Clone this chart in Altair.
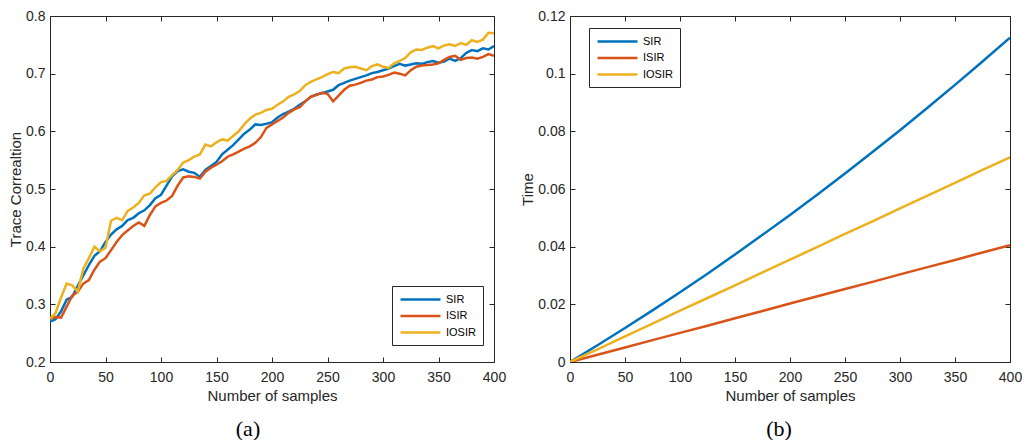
import altair as alt
import pandas as pd

methods = ["SIR", "ISIR", "IOSIR"]
colors = ["#0072BD", "#D95319", "#EDB120"]

# ---- panel (a): trace correlation ----
samples_a = list(range(0, 401, 5))
sir_a = [0.270, 0.274, 0.288, 0.308, 0.313, 0.332, 0.350, 0.368, 0.384, 0.392,
         0.408, 0.421, 0.430, 0.436, 0.446, 0.450, 0.458, 0.463, 0.472, 0.484,
         0.490, 0.506, 0.522, 0.531, 0.534, 0.530, 0.528, 0.521, 0.533, 0.540,
         0.547, 0.560, 0.568, 0.576, 0.586, 0.596, 0.603, 0.612, 0.611, 0.613,
         0.616, 0.624, 0.630, 0.634, 0.639, 0.646, 0.652, 0.660, 0.664, 0.666,
         0.669, 0.672, 0.680, 0.684, 0.688, 0.691, 0.694, 0.697, 0.701, 0.703,
         0.706, 0.709, 0.713, 0.717, 0.714, 0.716, 0.718, 0.717, 0.720, 0.722,
         0.719, 0.721, 0.726, 0.722, 0.727, 0.736, 0.741, 0.739, 0.744, 0.742,
         0.748]
isir_a = [0.275, 0.278, 0.277, 0.296, 0.315, 0.322, 0.336, 0.342, 0.360, 0.374,
          0.380, 0.394, 0.408, 0.420, 0.428, 0.436, 0.442, 0.436, 0.455, 0.470,
          0.476, 0.480, 0.488, 0.506, 0.520, 0.522, 0.521, 0.518, 0.530, 0.537,
          0.542, 0.548, 0.556, 0.560, 0.565, 0.570, 0.574, 0.580, 0.590, 0.606,
          0.612, 0.618, 0.624, 0.632, 0.638, 0.642, 0.652, 0.660, 0.663, 0.667,
          0.665, 0.652, 0.662, 0.672, 0.679, 0.681, 0.684, 0.688, 0.690, 0.694,
          0.695, 0.698, 0.702, 0.700, 0.697, 0.706, 0.712, 0.714, 0.715, 0.716,
          0.718, 0.724, 0.729, 0.731, 0.724, 0.727, 0.728, 0.726, 0.729, 0.734,
          0.731]
iosir_a = [0.275, 0.285, 0.312, 0.336, 0.333, 0.322, 0.362, 0.380, 0.400, 0.392,
           0.398, 0.445, 0.450, 0.446, 0.462, 0.468, 0.476, 0.489, 0.492, 0.503,
           0.512, 0.514, 0.524, 0.533, 0.546, 0.550, 0.556, 0.560, 0.577, 0.574,
           0.581, 0.586, 0.584, 0.592, 0.600, 0.612, 0.622, 0.629, 0.632, 0.637,
           0.639, 0.646, 0.652, 0.660, 0.664, 0.670, 0.680, 0.686, 0.690, 0.694,
           0.699, 0.703, 0.701, 0.709, 0.711, 0.712, 0.709, 0.706, 0.713, 0.716,
           0.712, 0.710, 0.718, 0.722, 0.727, 0.737, 0.742, 0.741, 0.745, 0.748,
           0.744, 0.749, 0.751, 0.748, 0.753, 0.750, 0.758, 0.755, 0.759, 0.771,
           0.770]

# ---- panel (b): time ----
samples_b = list(range(0, 401, 25))
sir_b = [0.0, 0.0058, 0.0118, 0.0179, 0.0242, 0.0306, 0.0373, 0.0441, 0.0510,
         0.0581, 0.0654, 0.0728, 0.0804, 0.0882, 0.0961, 0.1042, 0.1125]
isir_b = [0.0, 0.0025, 0.0050, 0.0076, 0.0101, 0.0126, 0.0152, 0.0177, 0.0203,
          0.0228, 0.0253, 0.0278, 0.0304, 0.0329, 0.0354, 0.0380, 0.0405]
iosir_b = [0.0, 0.0044, 0.0089, 0.0133, 0.0178, 0.0222, 0.0266, 0.0311, 0.0355,
           0.0399, 0.0444, 0.0488, 0.0533, 0.0577, 0.0621, 0.0666, 0.0710]

x_ticks = [0, 50, 100, 150, 200, 250, 300, 350, 400]
y_ticks_a = [0.2, 0.3, 0.4, 0.5, 0.6, 0.7, 0.8]
y_ticks_b = [0.0, 0.02, 0.04, 0.06, 0.08, 0.1, 0.12]


def long_df(samples, series):
    rows = []
    for name, vals in zip(methods, series):
        for n, v in zip(samples, vals):
            rows.append({"n": n, "v": v, "m": name})
    return pd.DataFrame(rows)


df_a = long_df(samples_a, [sir_a, isir_a, iosir_a])
df_b = long_df(samples_b, [sir_b, isir_b, iosir_b])

AX = "#262626"
H = 346


def panel(df, W, ydomain, yvals, yfmt, ytitle, lx, ly, caption, cdx):
    xs = alt.Scale(domain=[0, 400], nice=False, zero=False)
    ys = alt.Scale(domain=ydomain, nice=False, zero=False)
    base = alt.Chart(df)
    lines = base.mark_line(strokeWidth=2.5, clip=True).encode(
        x=alt.X("n:Q", scale=xs, axis=alt.Axis(
            values=x_ticks, title="Number of samples", ticks=False, tickSize=0,
            domain=False, grid=False, labelPadding=8, titlePadding=4,
            labelFlush=False)),
        y=alt.Y("v:Q", scale=ys, axis=alt.Axis(
            values=yvals, format=yfmt, title=ytitle, ticks=False, tickSize=0,
            domain=False, grid=False, labelPadding=5, titlePadding=2)),
        color=alt.Color("m:N", sort=methods,
                        scale=alt.Scale(domain=methods, range=colors),
                        legend=alt.Legend(
                            title=None, orient="none", legendX=lx, legendY=ly,
                            strokeColor=AX, fillColor="white", padding=7,
                            symbolType="M-4,0H4", symbolSize=100,
                            symbolOffset=15,
                            symbolStrokeWidth=2.5, labelFont="Liberation Sans",
                            labelFontSize=11, labelColor="black",
                            labelOffset=19, rowPadding=4.5)),
    )
    ticks_a = base.mark_point(opacity=0).encode(
        x=alt.X("n:Q", scale=xs, axis=alt.Axis(
            orient="top", offset=-H, values=x_ticks, labels=False, domain=False,
            ticks=True, tickSize=5, grid=False, title=None)),
        y=alt.Y("v:Q", scale=ys, axis=alt.Axis(
            orient="right", offset=-W, values=yvals, labels=False, domain=False,
            ticks=True, tickSize=5, grid=False, title=None)),
    )
    ticks_b = base.mark_point(opacity=0).encode(
        x=alt.X("n:Q", scale=xs, axis=alt.Axis(
            orient="bottom", offset=-H, values=x_ticks, labels=False, domain=False,
            ticks=True, tickSize=5, grid=False, title=None)),
        y=alt.Y("v:Q", scale=ys, axis=alt.Axis(
            orient="left", offset=-W, values=yvals, labels=False, domain=False,
            ticks=True, tickSize=5, grid=False, title=None)),
    )
    return alt.layer(lines, ticks_a, ticks_b).resolve_axis(
        x="independent", y="independent"
    ).properties(
        width=W, height=H,
        title=alt.TitleParams(text=caption, orient="bottom", anchor="middle",
                              frame="group", font="Liberation Serif",
                              fontSize=22, fontWeight="normal", color="black",
                              offset=16, dx=cdx),
    )


pa = panel(df_a, 444, [0.2, 0.8], y_ticks_a, ".1f", "Trace Correaltion",
           342, 270, "(a)", -24)
pb = panel(df_b, 440, [0.0, 0.12], y_ticks_b, ".2~f", "Time",
           19, 12, "(b)", -11)

chart = alt.hconcat(pa, pb, spacing=13).resolve_scale(
    color="independent"
).resolve_legend(color="independent").properties(
    padding={"left": 0, "top": 0, "right": 0, "bottom": 0}
).configure_view(
    stroke=AX, strokeWidth=1
).configure_axis(
    labelFont="Liberation Sans", labelFontSize=14, labelColor=AX,
    titleFont="Liberation Sans", titleFontSize=15, titleColor=AX,
    titleFontWeight="normal", tickColor=AX, tickWidth=1
)

chart.save("out.html", embed_options={"renderer": "svg", "actions": False})
